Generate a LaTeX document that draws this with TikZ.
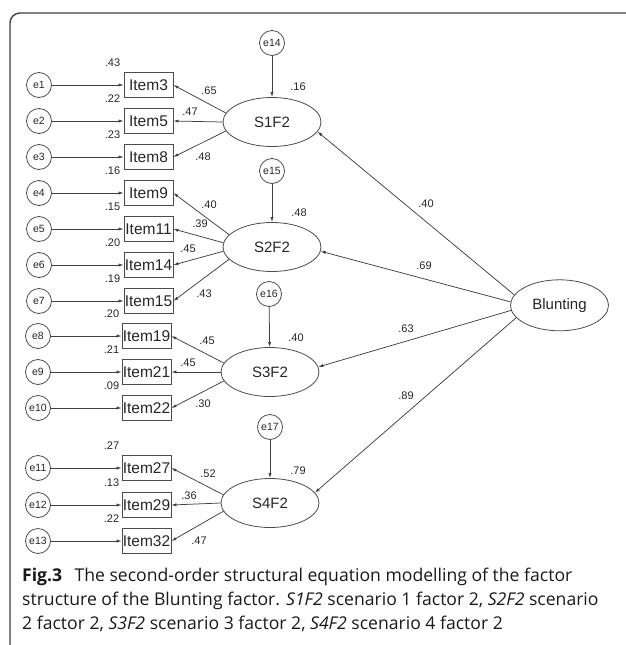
\documentclass[tikz,border=0pt]{standalone}
\usepackage{fontspec}
\setmainfont{Liberation Sans}
\newfontfamily\capfont{Open Sans}
\usepackage{tikz}
\usetikzlibrary{shapes.geometric,arrows.meta}

\tikzset{
  errc/.style={circle,draw=black!70,line width=0.8pt,minimum size=25pt,inner sep=0pt,text=black!85,font=\fontsize{10.5}{12}\selectfont},
  itembox/.style={rectangle,draw=black!70,line width=0.8pt,minimum width=49pt,minimum height=25pt,inner sep=0pt,text=black!85,font=\fontsize{15.5}{17}\selectfont},
  latent/.style={ellipse,draw=black!70,line width=0.8pt,minimum width=98pt,minimum height=49pt,inner sep=0pt,text=black!85,font=\fontsize{15}{17}\selectfont},
  coef/.style={inner sep=0pt,text=black!85,font=\fontsize{11}{12}\selectfont},
  path/.style={draw=black!75,line width=0.75pt,-{Latex[length=5pt,width=3.2pt]}},
  captext/.style={anchor=base west,inner sep=0pt,text=black!90,font=\capfont\fontsize{17.6}{20}\selectfont}
}

\begin{document}
\begin{tikzpicture}[x=1pt,y=-1pt]
\useasboundingbox (0,0) rectangle (625,645);

% frame
\draw[black!75,line width=1.4pt,rounded corners=10pt] (10,650) -- (10,13) -- (630,13);

% Latent factors
\node[latent] (s1) at (272,122) {S1F2};
\node[latent] (s2) at (272,247) {S2F2};
\node[latent] (s3) at (270,372) {S3F2};
\node[latent] (s4) at (270,503) {S4F2};
\node[latent,minimum height=51pt] (blunt) at (559.5,305.3) {Blunting};

% Items with their errors, upper two factors
\foreach \n/\num/\y/\rsq in {1/3/85/.43,2/5/121/.22,3/8/157/.23,4/9/193/.16,5/11/229/.15,6/14/265/.20,7/15/301/.19}{
\node[errc] (e\n) at (39,\y) {e\n};
\node[itembox] (it\num) at (148.5,\y) {Item\num};
\node[coef] (r\num) at (112.5,\y-22.5) {\rsq};
\draw[path] (e\n) -- (it\num);
}

% Items with their errors, lower two factors
\foreach \n/\num/\y/\rsq in {8/19/336/.20,9/21/372/.21,10/22/408/.09,11/27/468/.27,12/29/505/.13,13/32/541/.22}{
\node[errc] (e\n) at (38,\y) {e\n};
\node[itembox] (it\num) at (146.5,\y) {Item\num};
\node[coef] (r\num) at (111.5,\y-22.5) {\rsq};
\draw[path] (e\n) -- (it\num);
}

% Disturbances
\node[errc] (e14) at (272,43) {e14};
\node[errc] (e15) at (272,171) {e15};
\node[errc] (e16) at (269,294) {e16};
\node[errc] (e17) at (270,427) {e17};
\draw[path] (e14) -- (s1);
\draw[path] (e15) -- (s2);
\draw[path] (e16) -- (s3);
\draw[path] (e17) -- (s4);
\node[coef] (rs1) at (298,87) {.16};
\node[coef] (rs2) at (299,213) {.48};
\node[coef] (rs3) at (296,338) {.40};
\node[coef] (rs4) at (298,471) {.79};

% S1F2 loadings
\draw[path] (s1.169) -- (it3.east);
\draw[path] (s1.west) -- (it5.east);
\draw[path] (s1.191) -- (it8.east);
\node[coef] (l3) at (209,91) {.65};
\node[coef] (l5) at (190,112) {.47};
\node[coef] (l8) at (203,157) {.48};

% S2F2 loadings
\draw[path] (s2.164) -- (it9.east);
\draw[path] (s2.175) -- (it11.east);
\draw[path] (s2.185) -- (it14.east);
\draw[path] (s2.196) -- (it15.east);
\node[coef] (l9) at (209,205) {.40};
\node[coef] (l11) at (200,224) {.39};
\node[coef] (l14) at (188,249) {.45};
\node[coef] (l15) at (204,294) {.43};

% S3F2 loadings
\draw[path] (s3.169) -- (it19.east);
\draw[path] (s3.west) -- (it21.east);
\draw[path] (s3.191) -- (it22.east);
\node[coef] (l19) at (207,341) {.45};
\node[coef] (l21) at (188,363) {.45};
\node[coef] (l22) at (203,404) {.30};

% S4F2 loadings
\draw[path] (s4.170) -- (it27.east);
\draw[path] (s4.west) -- (it29.east);
\draw[path] (s4.190) -- (it32.east);
\node[coef] (l27) at (208,474) {.52};
\node[coef] (l29) at (189,496) {.36};
\node[coef] (l32) at (199,541) {.47};

% Second order
\draw[path] (blunt.167.5) -- (s1.-12);
\draw[path] (blunt.176) -- (s2.-5);
\draw[path] (blunt.186) -- (s3.6);
\draw[path] (blunt.196) -- (s4.13);
\node[coef] (b1) at (426,204) {.40};
\node[coef] (b2) at (424,266) {.69};
\node[coef] (b3) at (406,329) {.63};
\node[coef] (b4) at (406,396) {.89};

% caption
\node[captext] (cap1) at (22,581) {\textbf{Fig.3}\hspace{0.7em}The second-order structural equation modelling of the factor};
\node[captext] (cap2) at (22,605.3) {structure of the Blunting factor. \textit{S1F2} scenario 1 factor 2, \textit{S2F2} scenario};
\node[captext] (cap3) at (22,629.5) {2 factor 2, \textit{S3F2} scenario 3 factor 2, \textit{S4F2} scenario 4 factor 2};

\end{tikzpicture}
\end{document}
